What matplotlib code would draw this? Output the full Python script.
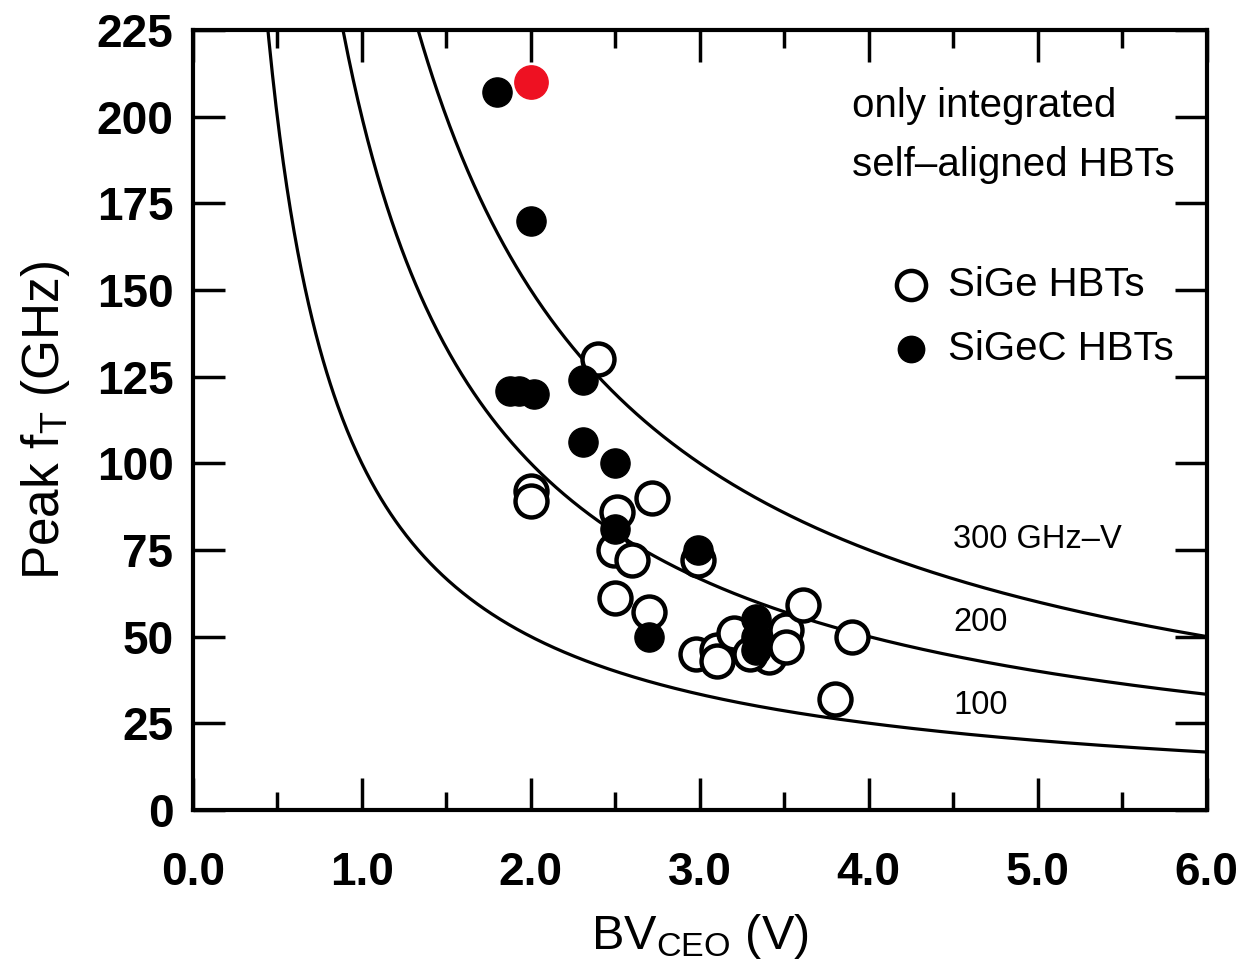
import numpy as np
import matplotlib
matplotlib.use("Agg")
import matplotlib.pyplot as plt

# ---- data ----
sige_bv = [2.40, 2.00, 2.00, 2.72, 2.51, 2.49, 2.60, 2.99, 2.50, 2.70,
           2.98, 3.10, 3.10, 3.20, 3.41, 3.51, 3.51, 3.61, 3.90, 3.80, 3.30]
sige_ft = [130, 92, 89, 90, 86, 75, 72, 72, 61, 57,
           45, 46, 43, 51, 44, 52, 47, 59, 50, 32, 45]

sigec_bv = [1.80, 2.00, 1.88, 1.93, 2.02, 2.31, 2.31, 2.50, 2.50, 2.99,
            2.70, 3.33, 3.33, 3.33]
sigec_ft = [207, 170, 121, 121, 120, 124, 106, 100, 81, 75,
            50, 55, 50, 46]

record_bv = [2.00]
record_ft = [210]

products = [100, 200, 300]          # fT x BVCEO in GHz-V
product_labels = ["100", "200", "300 GHz\u2013V"]
product_label_x = [4.5, 4.5, 4.5]
product_label_y = [30, 54, 78]

xticks = [0.0, 1.0, 2.0, 3.0, 4.0, 5.0, 6.0]
yticks = [0, 25, 50, 75, 100, 125, 150, 175, 200, 225]

# ---- style ----
fam = ["Liberation Sans", "DejaVu Sans"]
plt.rcParams["font.family"] = fam
plt.rcParams["mathtext.fontset"] = "custom"
plt.rcParams["mathtext.rm"] = "Liberation Sans"
plt.rcParams["mathtext.it"] = "Liberation Sans"

fig = plt.figure(figsize=(12.44, 9.71), dpi=100)
ax = fig.add_axes([0.155, 0.166, 0.815, 0.803])

xs = np.linspace(0.3, 6.0, 800)
for k in products:
    ax.plot(xs, k / xs, color="black", lw=2.3, zorder=2)

ax.plot(sige_bv, sige_ft, "o", ms=23, mfc="white", mec="black", mew=3.2,
        zorder=3, linestyle="none")
ax.plot(sigec_bv, sigec_ft, "o", ms=21, mfc="black", mec="black", mew=1,
        zorder=4, linestyle="none")
ax.plot(record_bv, record_ft, "o", ms=24, mfc="#ee1122", mec="#ee1122",
        zorder=5, linestyle="none")

for lab, lx, ly in zip(product_labels, product_label_x, product_label_y):
    ax.text(lx, ly, lab, fontsize=23.5, ha="left", va="center", color="black")

ax.text(3.90, 203, "only integrated", fontsize=29, ha="left", va="center")
ax.text(3.90, 186, "self\u2013aligned HBTs", fontsize=29, ha="left",
        va="center")

# legend entries
ax.plot([4.25], [151.5], "o", ms=21, mfc="white", mec="black", mew=3.2,
        clip_on=False)
ax.text(4.47, 151.5, "SiGe HBTs", fontsize=29, ha="left", va="center")
ax.plot([4.25], [133], "o", ms=19, mfc="black", mec="black")
ax.text(4.47, 133, "SiGeC HBTs", fontsize=29, ha="left", va="center")

ax.set_xlim(0, 6)
ax.set_ylim(0, 225)
ax.set_xticks(xticks)
ax.set_xticklabels([f"{v:.1f}" for v in xticks])
ax.set_xticks(np.arange(0.5, 6.0, 1.0), minor=True)
ax.set_yticks(yticks)
ax.set_yticklabels([str(v) for v in yticks])

ax.tick_params(which="major", direction="in", length=23, width=2.5,
               top=True, right=True, labelsize=33, pad=14)
ax.tick_params(which="minor", direction="in", length=13, width=2.5,
               top=True, right=True)
ax.tick_params(axis="x", which="major", pad=30)
for lab in ax.get_xticklabels() + ax.get_yticklabels():
    lab.set_fontweight("bold")

for s in ax.spines.values():
    s.set_linewidth(3)

ax.set_xlabel(r"BV$_\mathrm{CEO}$ (V)", fontsize=35, labelpad=12)
ax.set_ylabel(r"Peak f$_\mathrm{T}$ (GHz)", fontsize=37, labelpad=18)

fig.savefig("out.png", dpi=100, facecolor="white")
